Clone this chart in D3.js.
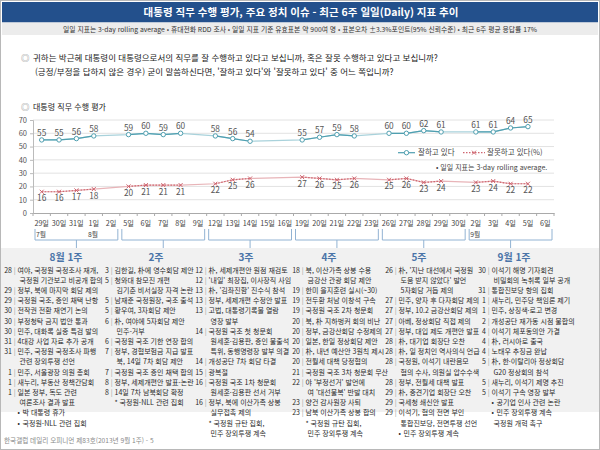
<!DOCTYPE html>
<html lang="ko">
<head>
<meta charset="UTF-8">
<title>대통령 직무 수행 평가, 주요 정치 이슈</title>
<script src="https://d3js.org/d3.v7.min.js"></script>
<style>
    body { margin: 0; background: #fff; }
    svg text { font-family: "Noto Sans CJK KR", "Noto Sans", sans-serif; }
</style>
</head>
<body>
<svg id="chart" width="600" height="450"></svg>
<script>
    // daily figures (3-day rolling average)
    const days = ["29일","30일","31일","1일","2일","5일","6일","7일","8일","9일",
                  "12일","13일","14일","15일","16일","19일","20일","21일","22일","23일",
                  "26일","27일","28일","29일","30일","2일","3일","4일","5일","6일"];
    const positive = [55,55,56,58,null,59,60,59,60,null,58,56,54,null,null,
                      55,57,59,58,null,60,60,62,61,null,61,61,64,65,null];
    const negative = [16,16,17,18,null,20,21,21,21,null,22,25,26,null,null,
                      27,26,25,26,null,25,26,23,24,null,23,24,22,22,null];
    const yTicks = [0,10,20,30,40,50,60,70];
    const monthLabels = ["7월","8월","9월"];
    const monthAt = [0,3,25];
    const weekLabels = ["8월 1주","2주","3주","4주","5주","9월 1주"];
    const weekStart = [0,5,10,15,20,25];
    const weekEnd = [4,9,14,19,24,29];

    // issues per week: [day, text]; "" = continued line, "•"/"*" = bullet
    const issues1 = [
        ["28","여야, 국정원 국정조사 재개,"],["","국정원 기관보고 비공개 합의"],
        ["29","정부, 북에 마지막 회담 제의"],["29","국정원 국조, 증인 채택 난항"],
        ["30","전작권 전환 재연기 논의"],["30","부정청탁 금지 법안 통과"],
        ["30","민주, 대화록 실종 특검 발의"],["31","4대강 사업 자료 추가 공개"],
        ["31","민주, 국정원 국정조사 파행"],["","관련 장외투쟁 선언"],
        ["1","민주, 서울광장 의원 총회"],["1","새누리, 부동산 정책간담회"],
        ["1","일본 정부, 독도 관련"],["","여론조사 결과 발표"],
        ["•","박 대통령 휴가"],["•","국정원-NLL 관련 집회"]
    ];
    const issues2 = [
        ["3","김한길, 朴에 영수회담 제안"],["5","청와대 참모진 개편"],
        ["","김기춘 비서실장 자격 논란"],["5","남재준 국정원장, 국조 출석"],
        ["5","황우여, 3자회담 제안"],["6","朴, 여야에 5자회담 제안"],
        ["","민주-거부"],["6","국정원 국조 기한 연장 합의"],
        ["7","정부, 경협보험금 지급 발표"],["","북, 14일 7차 회담 제안"],
        ["7","국정원 국조 증인 채택 합의"],["8","정부, 세제개편안 발표-논란"],
        ["8","14일 7차 남북회담 확정"],["*","국정원-NLL 관련 집회"]
    ];
    const issues3 = [
        ["12","朴, 세제개편안 원점 재검토"],["12","'내일' 최장집, 이사장직 사임"],
        ["13","朴, '김좌진함' 진수식 참석"],["13","정부, 세제개편 수정안 발표"],
        ["13","고법, 대통령기록물 열람"],["","영장 발부"],
        ["14","국정원 국조 첫 청문회"],["","원세훈·김용판, 증인 불출석"],
        ["","특위, 동행명령장 발부 의결"],["14","개성공단 7차 회담 타결"],
        ["15","광복절"],["16","국정원 국조 1차 청문회"],
        ["","원세훈·김용판 선서 거부"],["16","정부, 북에 이산가족 상봉"],
        ["","실무접촉 제의"],["*","국정원 규탄 집회,"],["","민주 장외투쟁 계속"]
    ];
    const issues4 = [
        ["18","북, 이산가족 상봉 수용"],["","금강산 관광 회담 제안"],
        ["19","한미 을지훈련 실시(~30)"],["19","전두환 처남 이창석 구속"],
        ["19","국정원 국조 2차 청문회"],["20","북, 朴 지하벙커 회의 비난"],
        ["20","정부, 금강산회담 수정제의"],["20","일본, 한일 정상회담 제안"],
        ["20","朴, 내년 예산안 3원칙 제시"],["20","전월세 대책 당정협의"],
        ["21","국정원 국조 3차 청문회 무산"],["22","야 '부정선거' 발언에"],
        ["","여 '대선불복' 반발 대치"],["23","양건 감사원장 사퇴"],
        ["23","남북 이산가족 상봉 합의"],["*","국정원 규탄 집회,"],["","민주 장외투쟁 계속"]
    ];
    const issues5 = [
        ["26","朴, '지난 대선에서 국정원"],["","도움 받지 않았다' 발언"],
        ["","5자회담 거듭 제의"],["27","민주, 양자 후 다자회담 제의"],
        ["27","정부, 10.2 금강산회담 제의"],["27","아베, 정상회담 직접 제의"],
        ["27","정부, 대입 제도 개편안 발표"],["28","朴, 대기업 회장단 오찬"],
        ["28","朴, 일 정치인 역사의식 언급"],["28","국정원, 이석기 내란음모"],
        ["","혐의 수사, 의원실 압수수색"],["28","정부, 전월세 대책 발표"],
        ["29","朴, 중견기업 회장단 오찬"],["29","국세청 쇄신안 발표"],
        ["29","이석기, 혐의 전면 부인"],["","통합진보당, 전면투쟁 선언"],
        ["•","민주 장외투쟁 계속"]
    ];
    const issues6 = [
        ["30","이석기 해명 기자회견"],["","비밀회의 녹취록 일부 공개"],
        ["31","통합진보당 항의 집회"],["1","새누리, 민주당 책임론 제기"],
        ["1","민주, 상징색·로고 변경"],["2","개성공단 재가동 시점 불합의"],
        ["4","이석기 체포동의안 가결"],["4","朴, 러시아로 출국"],
        ["4","노태우 추징금 완납"],["5","朴, 한·이탈리아 정상회담"],
        ["","G20 정상회의 참석"],["5","새누리, 이석기 제명 추진"],
        ["5","이석기 구속 영장 발부"],["•","공기업 인사 관련 논란"],
        ["•","민주 장외투쟁 계속"],["","국정원 개혁 촉구"]
    ];
    const issueCols = [issues1, issues2, issues3, issues4, issues5, issues6];

    const svg = d3.select('#chart');

    // frame, title bar and subtitle strip
    svg.append('rect').attr('x', 0.5).attr('y', 0.5).attr('width', 599).attr('height', 449)
        .attr('fill', '#fff').attr('stroke', '#b8b8b8');
    svg.append('rect').attr('x', 2).attr('y', 2).attr('width', 596).attr('height', 20.5)
        .attr('fill', '#23508c');
    svg.append('text').attr('x', 301).attr('y', 16.3).attr('text-anchor', 'middle')
        .attr('fill', '#fff').attr('font-size', 10.5).attr('font-weight', 700)
        .text('대통령 직무 수행 평가, 주요 정치 이슈 - 최근 6주 일일(Daily) 지표 추이');
    svg.append('rect').attr('x', 2).attr('y', 22.5).attr('width', 596).attr('height', 12.5)
        .attr('fill', '#ececec');
    svg.append('text').attr('x', 300).attr('y', 31.8).attr('text-anchor', 'middle')
        .attr('fill', '#333').attr('font-size', 6.8)
        .text('일일 지표는 3-day rolling average • 휴대전화 RDD 조사 • 일일 지표 기준 유효표본 약 900여 명 • 표본오차 ±3.3%포인트(95% 신뢰수준) • 최근 6주 평균 응답률 17%');

    // question
    const heads = [
        [61.3, '귀하는 박근혜 대통령이 대통령으로서의 직무를 잘 수행하고 있다고 보십니까, 혹은 잘못 수행하고 있다고 보십니까?', true],
        [74.7, "(긍정/부정을 답하지 않은 경우) 굳이 말씀하신다면, '잘하고 있다'와 '잘못하고 있다' 중 어느 쪽입니까?", false],
        [110.3, '대통령 직무 수행 평가', true]
    ];
    heads.forEach(h => {
        if (h[2]) {
            svg.append('text').attr('x', 21).attr('y', h[0]).attr('fill', '#888')
                .attr('font-size', 8.5).text('◎');
        }
        svg.append('text').attr('x', h[2] ? 33 : 35).attr('y', h[0]).attr('fill', '#222')
            .attr('font-size', h[1].length < 20 ? 8 : 8.5).text(h[1]);
    });

    // scales
    const x = d3.scaleBand().domain(d3.range(days.length)).range([33, 554]);
    const y = d3.scaleLinear().domain([0, 70]).range([213, 120]);
    const cx = i => x(i) + x.bandwidth() / 2;

    // grid
    svg.append('g').selectAll('line').data(yTicks.slice(1)).join('line')
        .attr('x1', 33).attr('x2', 554).attr('y1', d => y(d)).attr('y2', d => y(d))
        .attr('stroke', '#e2e2e2');

    const yAxis = svg.append('g').attr('transform', 'translate(33,0)')
        .call(d3.axisLeft(y).tickValues(yTicks).tickSize(3).tickPadding(3));
    yAxis.selectAll('path, line').attr('stroke', '#bbb');
    yAxis.selectAll('text').attr('font-size', 7.5).attr('fill', '#555');

    const xAxis = svg.append('g').attr('transform', 'translate(0,213)')
        .call(d3.axisBottom(x).tickFormat(i => days[i]).tickSize(0).tickPadding(8));
    xAxis.select('path').attr('stroke', '#aaa');
    xAxis.selectAll('text').attr('font-size', 7.2).attr('fill', '#444');

    // boundary ticks between days
    svg.append('g').selectAll('line').data(d3.range(days.length + 1)).join('line')
        .attr('x1', i => 33 + i * x.bandwidth()).attr('x2', i => 33 + i * x.bandwidth())
        .attr('y1', 213).attr('y2', 216).attr('stroke', '#aaa');

    // month labels
    svg.append('g').selectAll('text').data(monthLabels).join('text')
        .attr('x', (d, k) => x(monthAt[k]) + 3).attr('y', 237)
        .attr('font-size', 6.8).attr('fill', '#444').text(d => d);

    // week brackets
    svg.append('g').selectAll('path').data(weekLabels).join('path')
        .attr('d', (d, k) => {
            const x0 = x(weekStart[k]) + 2, x1 = x(weekEnd[k]) + x.bandwidth() - 2;
            const m = (x0 + x1) / 2;
            return `M${x0},229V240H${x1}V229M${m},240V248`;
        })
        .attr('fill', 'none').attr('stroke', '#92b3d3');

    // series
    const teal = '#4f9fb0', tealLight = '#a9d2db', red = '#cf6670', redLight = '#e8b4b8';
    function drawSeries(vals, col, light, dash) {
        const pts = vals.map((v, i) => ({ i, v })).filter(p => p.v != null);
        const line = d3.line().x(p => cx(p.i)).y(p => y(p.v));
        svg.append('path').datum(pts).attr('d', line)
            .attr('fill', 'none').attr('stroke', light).attr('stroke-width', 1.2);
        const segs = d3.line().defined(d => d != null).x((d, i) => cx(i)).y(d => y(d));
        svg.append('path').datum(vals).attr('d', segs)
            .attr('fill', 'none').attr('stroke', col).attr('stroke-width', 1.2)
            .attr('stroke-dasharray', dash);
        return pts;
    }
    const posPts = drawSeries(positive, teal, tealLight, null);
    const negPts = drawSeries(negative, red, redLight, '1.5,1.5');

    svg.append('g').selectAll('circle').data(posPts).join('circle')
        .attr('cx', p => cx(p.i)).attr('cy', p => y(p.v)).attr('r', 2.2)
        .attr('fill', '#fff').attr('stroke', teal).attr('stroke-width', 1);
    svg.append('g').selectAll('path').data(negPts).join('path')
        .attr('d', p => `M${cx(p.i) - 2},${y(p.v) - 2}L${cx(p.i) + 2},${y(p.v) + 2}M${cx(p.i) - 2},${y(p.v) + 2}L${cx(p.i) + 2},${y(p.v) - 2}`)
        .attr('stroke', red).attr('stroke-width', 1);

    svg.append('g').selectAll('text').data(posPts).join('text')
        .attr('x', p => cx(p.i)).attr('y', p => y(p.v) - 4).attr('text-anchor', 'middle')
        .attr('font-size', 8.3).attr('fill', '#555').text(p => p.v);
    svg.append('g').selectAll('text').data(negPts).join('text')
        .attr('x', p => cx(p.i)).attr('y', p => y(p.v) + 9.5).attr('text-anchor', 'middle')
        .attr('font-size', 8.3).attr('fill', '#555').text(p => p.v);

    // legend
    const lg = svg.append('g');
    lg.append('line').attr('x1', 398).attr('x2', 415).attr('y1', 152.7).attr('y2', 152.7)
        .attr('stroke', teal).attr('stroke-width', 1.2);
    lg.append('circle').attr('cx', 406.5).attr('cy', 152.7).attr('r', 2.2)
        .attr('fill', '#fff').attr('stroke', teal);
    lg.append('text').attr('x', 418).attr('y', 155.4).attr('font-size', 7.5).attr('fill', '#444')
        .text('잘하고 있다');
    lg.append('line').attr('x1', 463).attr('x2', 485).attr('y1', 152.7).attr('y2', 152.7)
        .attr('stroke', red).attr('stroke-width', 1.2).attr('stroke-dasharray', '1.5,1.5');
    lg.append('path').attr('d', 'M472,150.7L476,154.7M472,154.7L476,150.7').attr('stroke', red);
    lg.append('text').attr('x', 487).attr('y', 155.4).attr('font-size', 7.5).attr('fill', '#444')
        .text('잘못하고 있다(%)');
    lg.append('text').attr('x', 436).attr('y', 169.6).attr('font-size', 7).attr('fill', '#444')
        .text('• 일일 지표는 3-day rolling average.');

    // issues panel
    svg.append('rect').attr('x', 1).attr('y', 248).attr('width', 598).attr('height', 164)
        .attr('fill', '#f1f1f1');
    const headX = [66, 156, 246, 329, 419, 514];
    svg.append('g').selectAll('text').data(weekLabels).join('text')
        .attr('x', (d, k) => headX[k]).attr('y', 261).attr('text-anchor', 'middle')
        .attr('font-size', 10).attr('font-weight', 700).attr('fill', '#4a74a8').text(d => d);

    const colX = [12, 109, 203, 300, 393, 486];
    issueCols.forEach((rows, c) => {
        const g = svg.append('g').attr('font-size', 7).attr('fill', '#2a2a2a');
        const tx = colX[c] + 5.5;
        rows.forEach((r, k) => {
            const yy = 272.5 + k * 10.2;
            if (r[0] === '') {
                g.append('text').attr('x', tx + 2).attr('y', yy).text(r[1]);
            } else if (r[0] === '•' || r[0] === '*') {
                g.append('text').attr('x', tx).attr('y', yy).text(r[0]);
                g.append('text').attr('x', tx + 5).attr('y', yy).text(r[1]);
            } else {
                g.append('text').attr('x', colX[c]).attr('y', yy).attr('text-anchor', 'end').text(r[0]);
                g.append('text').attr('x', colX[c] + 2.7).attr('y', yy).attr('text-anchor', 'middle')
                    .attr('fill', '#999').text('|');
                g.append('text').attr('x', tx).attr('y', yy).text(r[1]);
            }
        });
    });

    svg.append('text').attr('x', 4).attr('y', 443).attr('font-size', 6.6).attr('fill', '#888')
        .text('한국갤럽 데일리 오피니언 제83호(2013년 9월 1주) - 5');
</script>
</body>
</html>
